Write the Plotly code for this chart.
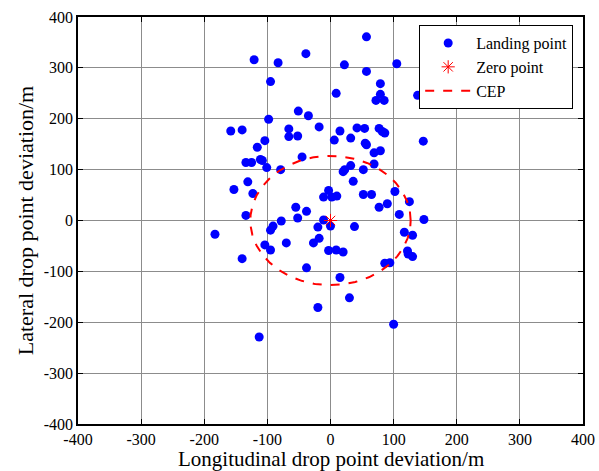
import numpy as np
import plotly.graph_objects as go

landing_x = [57, -39, -121, -83, 22, 105, 57, -95, 79, 9, 79, 72, 85, 138,
             -98, -51, -35, -158, -140, -66, -18, -66, -52, -104, -116, -134,
             -125, -111, -108, -101, -79, -45, -131, -153, -123, -55, -38, -134,
             15, 42, 54, 77, 82, 86, 6, 32, 55, 57, 147, 79, 69, 69, 32, 20,
             22.5, 52, 36, -3, -11, 2, 10, 52, 65, 102, 125, 77, 90, 109, 148,
             -183, -78, -52, -11, -91, -95, -20, -18, -27, -70, -104, -95, -140,
             -38, -3, -20, -113, 0, 38, 9, 20, 117, 130, 122, 123, 130, 86, 94,
             15, 30, 100]
landing_y = [361, 328, 316, 310, 306, 308, 293, 273, 269, 250, 248, 236, 236, 246,
             199, 215, 206, 176, 178, 180, 184, 165, 166, 157, 144, 114,
             114, 120, 118, 104, 100, 125, 76, 61, 53, 26, 18, 10,
             176, 182, 181, 181, 175, 172, 158, 162, 152, 149, 156, 137, 133, 111, 108, 96,
             100, 100, 77, 59, 46, 46, 48, 51, 51, 57, 37, 26, 33, 12, 2,
             -27, -1, 5, 1, -11, -19, -13, -35, -44, -44, -48, -58, -75,
             -93, -59, -171, -229, -11, -12, -58, -62, -23, -29, -60, -66, -71, -84, -83,
             -112, -152, -204]
zero_x = [0]
zero_y = [0]
cep_radius = 127
ticks = [-400, -300, -200, -100, 0, 100, 200, 300, 400]
tick_labels = ["-400", "-300", "-200", "-100", "0", "100", "200", "300", "400"]

theta = np.linspace(0, 2 * np.pi, 361)
cep_x = cep_radius * np.cos(theta)
cep_y = cep_radius * np.sin(theta)

font = "Liberation Serif"

fig = go.Figure()
fig.add_trace(go.Scatter(x=landing_x, y=landing_y, mode="markers", name="Landing point",
                         marker=dict(color="#0000FF", size=9, line=dict(width=0))))
fig.add_trace(go.Scatter(x=zero_x, y=zero_y, mode="markers", name="Zero point",
                         marker=dict(color="#FF0000", size=11, symbol="asterisk-open",
                                     line=dict(color="#FF0000", width=1))))
fig.add_trace(go.Scatter(x=cep_x, y=cep_y, mode="lines", name="CEP",
                         line=dict(color="#FF0000", width=2, dash="dash")))

axis_common = dict(range=[-400, 400], tickmode="array", tickvals=ticks, ticktext=tick_labels,
                   ticks="inside", ticklen=5,
                   tickcolor="black", showline=True, linecolor="black", linewidth=1.5,
                   mirror="ticks", showgrid=True, gridcolor="#8c8c8c", gridwidth=1,
                   zeroline=False, automargin=False,
                   tickfont=dict(family=font, size=16, color="black"))

fig.update_layout(
    width=599, height=471,
    margin=dict(l=78, r=16, t=17, b=47),
    paper_bgcolor="white", plot_bgcolor="white",
    font=dict(family=font, color="black"),
    xaxis=dict(**axis_common, ticklabelstandoff=0),
    yaxis=dict(**axis_common,
               title=dict(text="Lateral drop point deviation/m",
                          font=dict(family=font, size=22), standoff=4)),
    legend=dict(x=0.6756, y=0.98, xanchor="left", yanchor="top",
                bgcolor="white", bordercolor="black", borderwidth=1,
                itemwidth=46,
                font=dict(family=font, size=16), tracegroupgap=0),
    annotations=[dict(text="Longitudinal drop point deviation/m", xref="paper", yref="paper",
                      x=0.5, y=0, yshift=-49, xanchor="center", yanchor="bottom",
                      showarrow=False, font=dict(family=font, size=21))],
)

fig.write_html("out.html")
